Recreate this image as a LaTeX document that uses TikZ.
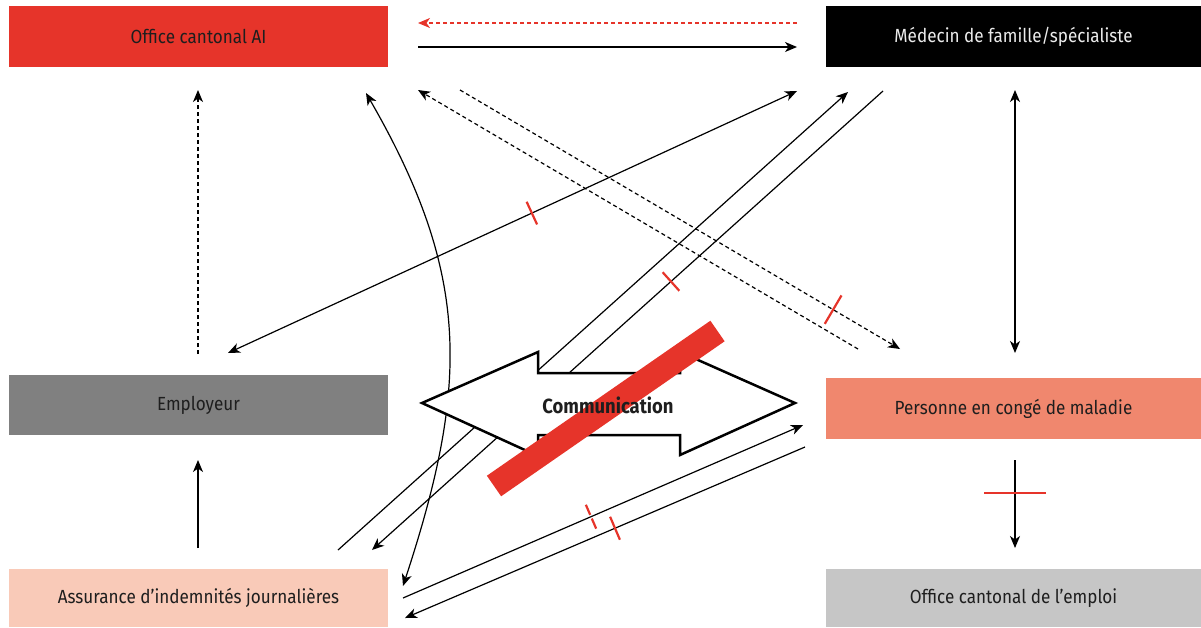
\documentclass[tikz,border=0pt]{standalone}
\usepackage{fontspec}
\setmainfont[FakeStretch=0.9]{Fira Sans}
\usetikzlibrary{arrows.meta,calc}
\definecolor{aired}{HTML}{E6342A}
\definecolor{pers}{HTML}{F0876E}
\definecolor{assu}{HTML}{F9CAB8}
\definecolor{empl}{HTML}{808080}
\definecolor{oce}{HTML}{C6C6C6}
\definecolor{txt}{HTML}{1E1E1E}
\tikzset{
  box/.style={rectangle, inner sep=0pt, minimum width=379pt, minimum height=61pt,
    font=\fontsize{19}{22}\selectfont, text=txt},
  tip/.tip={Stealth[length=12pt,width=10pt,inset=3.5pt]},
  conn/.style={line width=1.2pt, -tip},
  both/.style={line width=1.2pt, tip-tip},
  dsh/.style={dash pattern=on 4pt off 3pt},
  tick/.style={aired, line width=2.2pt},
  tickd/.style={aired, line width=2.2pt, dash pattern=on 11pt off 4pt},
}
\begin{document}
\begin{tikzpicture}[x=1pt,y=-1pt]
\useasboundingbox (0,0) rectangle (1201,627);
% boxes
\node[box, fill=aired] (ai) at (198.5,36.5) {Office cantonal AI};
\node[box, fill=black, text=white!92!black, minimum width=375pt] (med) at (1013.5,36.5) {Médecin de famille/spécialiste};
\node[box, fill=empl, minimum height=60pt] (emp) at (198.5,405) {Employeur};
\node[box, fill=pers, minimum width=375pt] (per) at (1013.5,408.5) {Personne en congé de maladie};
\node[box, fill=assu, minimum height=58pt] (ass) at (198.5,598) {Assurance d’indemnités journalières};
\node[box, fill=oce, minimum width=375pt, minimum height=58pt] (oce) at (1013.5,598) {Office cantonal de l’emploi};
% endpoints
\coordinate (a1s) at (797,23); \coordinate (a1e) at (418,23);
\coordinate (a2s) at (418,47); \coordinate (a2e) at (797,47);
\coordinate (a3s) at (858,349); \coordinate (a3e) at (418,90);
\coordinate (a4s) at (460,90); \coordinate (a4e) at (900,349);
\coordinate (a5s) at (228,353); \coordinate (a5e) at (797,91);
\coordinate (a6s) at (338,550); \coordinate (a6e) at (848,92);
\coordinate (a7s) at (883,91); \coordinate (a7e) at (372,550);
\coordinate (a8s) at (366,93); \coordinate (a8e) at (403,586);
\coordinate (a8c1) at (471,275); \coordinate (a8c2) at (469,385);
\coordinate (a9s) at (403,598); \coordinate (a9e) at (803,425);
\coordinate (a10s) at (805,447); \coordinate (a10e) at (405,618);
\coordinate (a11s) at (198,354); \coordinate (a11e) at (198,90);
\coordinate (a12s) at (198,548); \coordinate (a12e) at (198,460);
\coordinate (a13s) at (1015,90); \coordinate (a13e) at (1015,353);
\coordinate (a14s) at (1015,460); \coordinate (a14e) at (1015,548);
% connectors
\draw[conn, dsh, aired] (a1s) -- (a1e);
\draw[conn] (a2s) -- (a2e);
\draw[conn, dsh] (a3s) -- (a3e);
\draw[conn, dsh] (a4s) -- (a4e);
\draw[both] (a5s) -- (a5e);
\draw[conn] (a6s) -- (a6e);
\draw[conn] (a7s) -- (a7e);
\draw[both] (a8s) .. controls (a8c1) and (a8c2) .. (a8e);
\draw[conn] (a9s) -- (a9e);
\draw[conn] (a10s) -- (a10e);
\draw[conn, dsh] (a11s) -- (a11e);
\draw[conn] (a12s) -- (a12e);
\draw[both] (a13s) -- (a13e);
\draw[conn] (a14s) -- (a14e);
% red ticks
\coordinate (t4) at ($(a4s)!0.848!(a4e)$);
\coordinate (t5) at ($(a5s)!0.534!(a5e)$);
\coordinate (t7) at ($(a7s)!0.415!(a7e)$);
\coordinate (t9) at ($(a9s)!0.47!(a9e)$);
\coordinate (t10) at ($(a10s)!0.475!(a10e)$);
\coordinate (t14) at ($(a14s)!0.375!(a14e)$);
\draw[tick] ($(t4)!16.5pt!90:(a4e)$) -- ($(t4)!16.5pt!-90:(a4e)$);
\draw[tick] ($(t5)!12.5pt!90:(a5e)$) -- ($(t5)!12.5pt!-90:(a5e)$);
\draw[tick] ($(t7)!12.5pt!90:(a7e)$) -- ($(t7)!12.5pt!-90:(a7e)$);
\draw[tickd] ($(t9)!13pt!90:(a9e)$) -- ($(t9)!13pt!-90:(a9e)$);
\draw[tick] ($(t10)!12.5pt!90:(a10e)$) -- ($(t10)!12.5pt!-90:(a10e)$);
\draw[aired, line width=2pt] ($(t14)!31pt!90:(a14e)$) -- ($(t14)!31pt!-90:(a14e)$);
% communication arrow
\draw[line width=2.5pt, fill=white, miter limit=10]
  (422,403) -- (538,352) -- (538,373) -- (680,373) -- (680,352) -- (795,403)
  -- (680,455) -- (680,435) -- (538,435) -- (538,456) -- cycle;
\coordinate (r1) at (494,486); \coordinate (r2) at (717.5,331);
\draw[aired, line width=25pt] (r1) -- (r2);
\node[font=\fontsize{20.5}{24}\selectfont\bfseries, text=txt, inner sep=0pt] (com) at (608,405) {Communication};
\end{tikzpicture}
\end{document}
